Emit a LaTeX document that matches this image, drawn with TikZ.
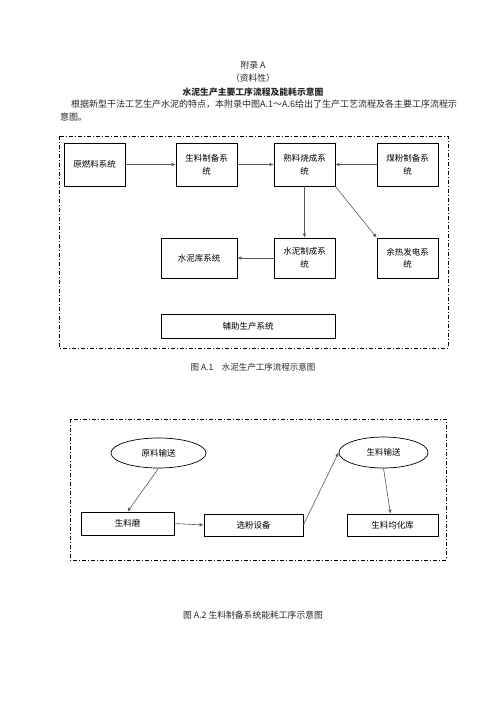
\documentclass[tikz,border=0pt]{standalone}
\usepackage{fontspec}
\setmainfont{Noto Sans CJK SC}
\usetikzlibrary{arrows.meta,shapes.geometric}
\begin{document}
\begin{tikzpicture}[x=1pt,y=-1pt,
	box/.style={draw=black,line width=0.7pt,inner sep=0pt,align=center,font=\fontsize{8.5}{12.5}\selectfont},
	oval/.style={ellipse,draw=black,line width=0.7pt,inner sep=0pt,font=\fontsize{8.5}{10}\selectfont},
	frame/.style={draw=black,line width=0.8pt,dash pattern=on 4pt off 2pt on 1pt off 2pt},
	flow/.style={draw=black!65,line width=0.6pt,-{Latex[length=4pt,width=3.5pt]}},
	txt/.style={inner sep=0pt,text=black!85}]
	\useasboundingbox (0,0) rectangle (496,702);

	% title and text
	\node (T1) at (253,65)	[txt,font=\fontsize{8.8}{10}\selectfont]	{附录 A};
	\node (T2) at (253,78)	[txt,font=\fontsize{8.8}{10}\selectfont]	{（资料性）};
	\node (T3) at (253,92)	[txt,font=\fontsize{8.8}{10}\selectfont\bfseries]	{水泥生产主要工序流程及能耗示意图};
	\node (P1) at (71,104)	[txt,anchor=west,font=\fontsize{9}{10}\selectfont]	{根据新型干法工艺生产水泥的特点，本附录中图A.1～A.6给出了生产工艺流程及各主要工序流程示};
	\node (P2) at (60,117)	[txt,anchor=west,font=\fontsize{9}{10}\selectfont]	{意图。};

	% figure A.1
	\draw[frame] (59,136) rectangle (448,348);
	\node (YRL)  at ( 94.5,164.5)	[box,minimum width=61pt,minimum height=43pt]	{原燃料系统};
	\node (SLZB) at (206.5,164.5)	[box,minimum width=61pt,minimum height=43pt]	{生料制备系\\统};
	\node (SLSC) at (304.5,164.5)	[box,minimum width=61pt,minimum height=43pt]	{熟料烧成系\\统};
	\node (MFZB) at (407.5,164.5)	[box,minimum width=61pt,minimum height=43pt]	{煤粉制备系\\统};
	\node (SNK)  at (199,258)	[box,minimum width=76pt,minimum height=40pt]	{水泥库系统};
	\node (SNZC) at (304.5,258)	[box,minimum width=61pt,minimum height=40pt]	{水泥制成系\\统};
	\node (YRFD) at (407.5,258)	[box,minimum width=61pt,minimum height=40pt]	{余热发电系\\统};
	\node (FZSC) at (248,326)	[box,minimum width=174pt,minimum height=24pt]	{辅助生产系统};
	\draw[flow] (YRL) -- (SLZB);
	\draw[flow] (SLZB) -- (SLSC);
	\draw[flow] (MFZB) -- (SLSC);
	\draw[flow] (SLSC) -- (SNZC);
	\draw[flow] (SLSC.south east) -- (YRFD.north west);
	\draw[flow] (SNZC) -- (SNK);
	\node (C1) at (253,367)	[txt,font=\fontsize{8.5}{10}\selectfont]	{图 A.1\quad 水泥生产工序流程示意图};

	% figure A.2
	\draw[frame] (70,419) rectangle (446,560);
	\node (YLSS)  at (158.5,453)	[oval,minimum width=95pt,minimum height=30pt]	{原料输送};
	\node (SLSS)  at (383.5,452.5)	[oval,minimum width=89pt,minimum height=31pt]	{生料输送};
	\node (SLM)   at (127.5,523.5)	[box,minimum width=93pt,minimum height=23pt]	{生料磨};
	\node (XFSB)  at (253.5,525)	[box,minimum width=99pt,minimum height=22pt]	{选粉设备};
	\node (SLJHK) at (392.5,525)	[box,minimum width=91pt,minimum height=22pt]	{生料均化库};
	\draw[flow] (YLSS.south) -- (SLM.north);
	\draw[flow] (SLM.east) -- (XFSB.west);
	\draw[flow] (XFSB.east) -- (SLSS.west);
	\draw[flow] (SLSS.south) -- ([xshift=-2pt]SLJHK.north);
	\node (C2) at (253,615)	[txt,font=\fontsize{8.8}{10}\selectfont]	{图 A.2 生料制备系统能耗工序示意图};
\end{tikzpicture}
\end{document}
